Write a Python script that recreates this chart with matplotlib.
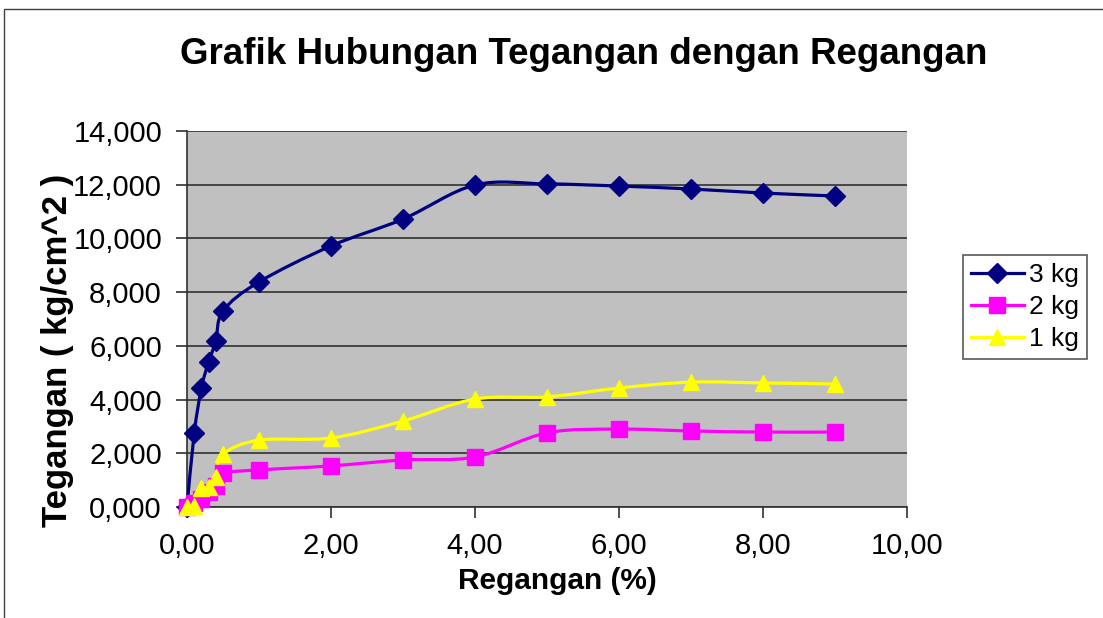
import numpy as np
import matplotlib
matplotlib.use('Agg')
from matplotlib import pyplot as plt
from matplotlib.path import Path
from matplotlib.patches import PathPatch, Rectangle
from matplotlib.lines import Line2D
from matplotlib.ticker import FuncFormatter, MultipleLocator

plt.rcParams['font.family'] = ['Liberation Sans', 'DejaVu Sans']

# regangan (%) and tegangan (kg/cm^2)
strain = [0, 0.1, 0.2, 0.3, 0.4, 0.5, 1, 2, 3, 4, 5, 6, 7, 8, 9]
stress_3kg = [0, 2.74, 4.43, 5.40, 6.17, 7.30, 8.38, 9.72, 10.72, 11.99, 12.03, 11.95, 11.84, 11.69, 11.58]
stress_2kg = [0, 0.15, 0.30, 0.55, 0.80, 1.25, 1.38, 1.53, 1.75, 1.86, 2.76, 2.90, 2.83, 2.79, 2.79]
stress_1kg = [0, 0.05, 0.70, 0.76, 1.12, 1.96, 2.49, 2.57, 3.20, 4.02, 4.10, 4.43, 4.65, 4.62, 4.58]

series_labels = ['3 kg', '2 kg', '1 kg']
series_colors = ['#000080', '#FF00FF', '#FFFF00']
series_markers = ['D', 's', '^']
series_msize = [10, 11, 12]

title = 'Grafik Hubungan Tegangan dengan Regangan'
xlabel = 'Regangan (%)'
ylabel = 'Tegangan ( kg/cm^2 )'


def smooth_path(x, y):
    # excel style smoothed line: cubic bezier through the points (catmull-rom)
    pts = np.column_stack([x, y]).astype(float)
    n = len(pts)
    verts = [pts[0]]
    codes = [Path.MOVETO]
    for i in range(n - 1):
        p0 = pts[i - 1] if i > 0 else pts[i]
        p1 = pts[i]
        p2 = pts[i + 1]
        p3 = pts[i + 2] if i + 2 < n else pts[i + 1]
        c1 = p1 + (p2 - p0) / 6.0
        c2 = p2 - (p3 - p1) / 6.0
        verts += [c1, c2, p2]
        codes += [Path.CURVE4] * 3
    return Path(verts, codes)


W, H = 1103, 618
fig = plt.figure(figsize=(W / 100, H / 100), dpi=100)
fig.patches.append(Rectangle((4 / W, -0.1), 1.2, 1.1 - 9 / H, transform=fig.transFigure,
                             fill=False, edgecolor='#404040', linewidth=1.0))

ax = fig.add_axes([187 / W, 1 - 507 / H, 720 / W, 376 / H])
ax.set_facecolor('#C0C0C0')
ax.set_xlim(0, 10)
ax.set_ylim(0, 14)
ax.xaxis.set_major_locator(MultipleLocator(2))
ax.yaxis.set_major_locator(MultipleLocator(2))
ax.xaxis.set_major_formatter(FuncFormatter(lambda v, p: f'{v:.2f}'.replace('.', ',')))
ax.yaxis.set_major_formatter(FuncFormatter(lambda v, p: f'{v:.3f}'.replace('.', ',')))
ax.grid(axis='y', color='#303030', linewidth=1.2)
ax.set_axisbelow(True)
for s in ['top', 'right']:
    ax.spines[s].set_visible(False)
for s in ['left', 'bottom']:
    ax.spines[s].set_color('#303030')
    ax.spines[s].set_linewidth(1.2)
ax.tick_params(axis='both', direction='out', length=8, width=1.2, color='#303030',
               labelsize=21, pad=10)

handles = []
for ys, lab, col, mk, ms in zip([stress_3kg, stress_2kg, stress_1kg], series_labels,
                                series_colors, series_markers, series_msize):
    ax.add_patch(PathPatch(smooth_path(strain, ys), fill=False, edgecolor=col,
                           linewidth=2.3, zorder=3, clip_on=False))
    ax.plot(strain, ys, linestyle='none', marker=mk, markersize=ms, color=col,
            markeredgecolor=col, zorder=4, clip_on=False)
    handles.append(Line2D([], [], color=col, linewidth=2.3, marker=mk, markersize=ms,
                          markeredgecolor=col, label=lab))

fig.text(584 / W, 1 - 55 / H, title, ha='center', va='center', fontsize=26.5, fontweight='bold')
fig.text(557 / W, 1 - 581 / H, xlabel, ha='center', va='center', fontsize=21.5, fontweight='bold')
fig.text(57 / W, 1 - 350 / H, ylabel, ha='center', va='center', rotation=90,
         fontsize=25, fontweight='bold')

leg = fig.legend(handles=handles, loc='upper left', bbox_to_anchor=(963 / W, 1 - 255 / H),
                 borderaxespad=0, fontsize=19, frameon=True, fancybox=False,
                 edgecolor='#303030', handlelength=2.0, handletextpad=0.2,
                 labelspacing=0.3, borderpad=0.3)
leg.get_frame().set_linewidth(1.2)

fig.savefig('out.png', dpi=100)
